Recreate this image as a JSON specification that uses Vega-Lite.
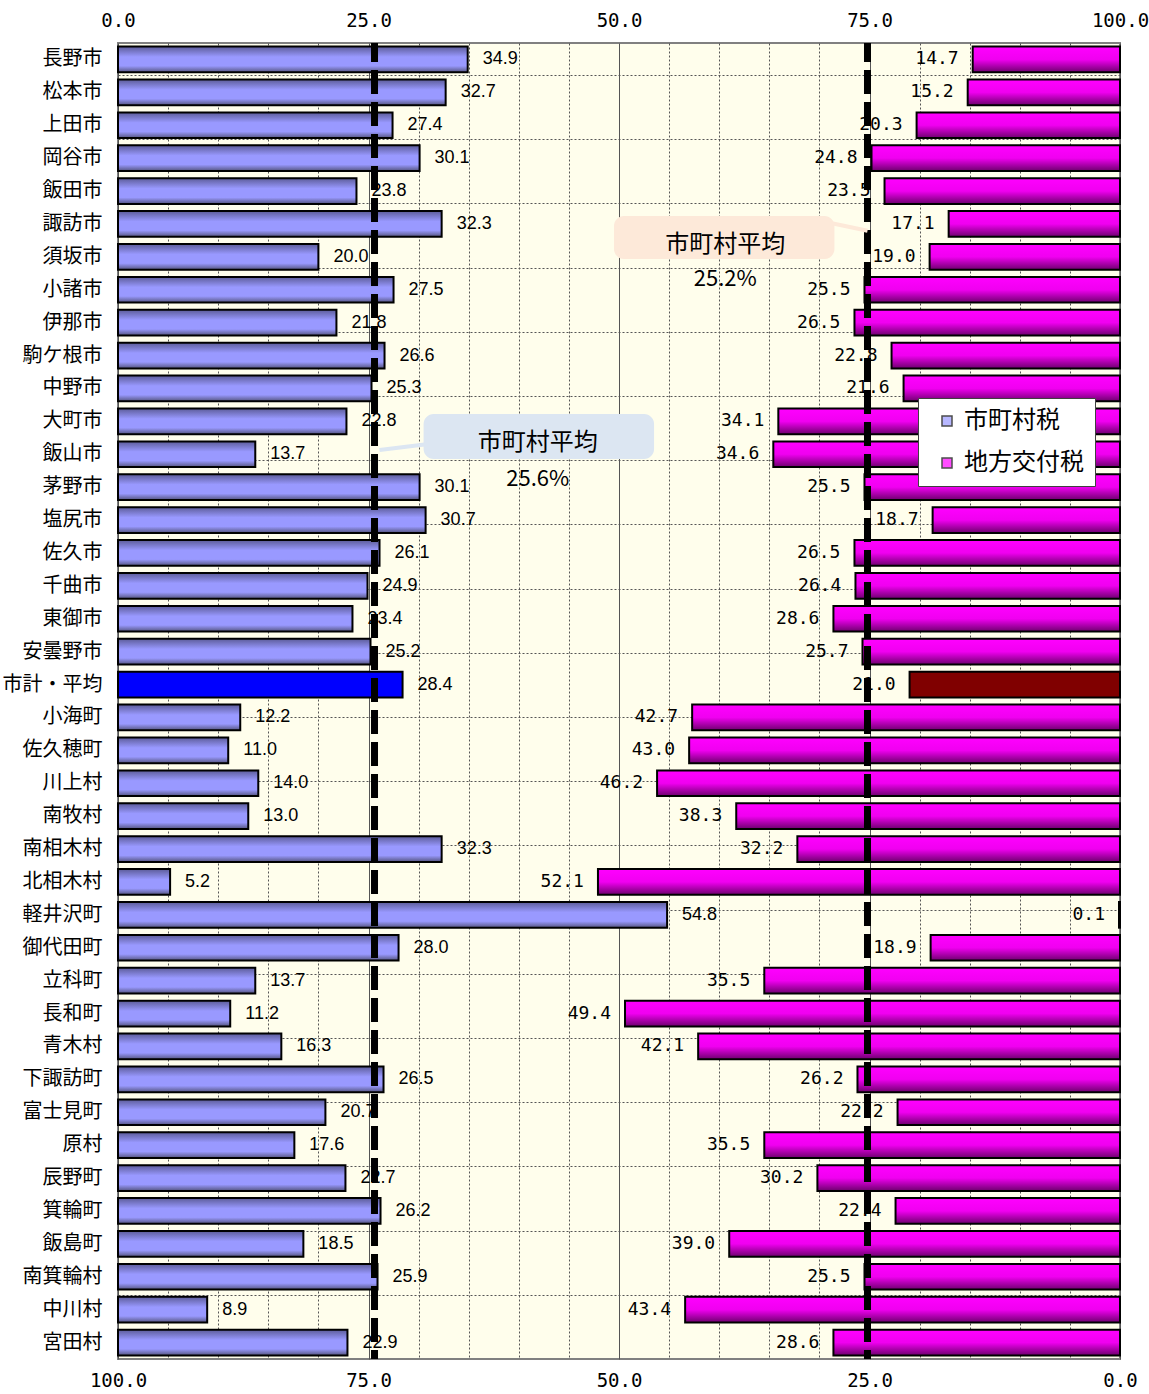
{
  "$schema": "https://vega.github.io/schema/vega-lite/v6.json",
  "width": 1002,
  "height": 1316,
  "padding": {"left": 2, "top": 11, "right": 5, "bottom": 5},
  "background": "white",
  "config": {
    "view": {"fill": "#fffeec", "stroke": "#808080", "strokeWidth": 2},
    "font": "Noto Sans CJK JP"
  },
  "datasets": {
    "main": [
      {"name": "長野市", "tax": 34.9, "grant": 14.7},
      {"name": "松本市", "tax": 32.7, "grant": 15.2},
      {"name": "上田市", "tax": 27.4, "grant": 20.3},
      {"name": "岡谷市", "tax": 30.1, "grant": 24.8},
      {"name": "飯田市", "tax": 23.8, "grant": 23.5},
      {"name": "諏訪市", "tax": 32.3, "grant": 17.1},
      {"name": "須坂市", "tax": 20.0, "grant": 19.0},
      {"name": "小諸市", "tax": 27.5, "grant": 25.5},
      {"name": "伊那市", "tax": 21.8, "grant": 26.5},
      {"name": "駒ケ根市", "tax": 26.6, "grant": 22.8},
      {"name": "中野市", "tax": 25.3, "grant": 21.6},
      {"name": "大町市", "tax": 22.8, "grant": 34.1},
      {"name": "飯山市", "tax": 13.7, "grant": 34.6},
      {"name": "茅野市", "tax": 30.1, "grant": 25.5},
      {"name": "塩尻市", "tax": 30.7, "grant": 18.7},
      {"name": "佐久市", "tax": 26.1, "grant": 26.5},
      {"name": "千曲市", "tax": 24.9, "grant": 26.4},
      {"name": "東御市", "tax": 23.4, "grant": 28.6},
      {"name": "安曇野市", "tax": 25.2, "grant": 25.7},
      {"name": "市計・平均", "tax": 28.4, "grant": 21.0},
      {"name": "小海町", "tax": 12.2, "grant": 42.7},
      {"name": "佐久穂町", "tax": 11.0, "grant": 43.0},
      {"name": "川上村", "tax": 14.0, "grant": 46.2},
      {"name": "南牧村", "tax": 13.0, "grant": 38.3},
      {"name": "南相木村", "tax": 32.3, "grant": 32.2},
      {"name": "北相木村", "tax": 5.2, "grant": 52.1},
      {"name": "軽井沢町", "tax": 54.8, "grant": 0.1},
      {"name": "御代田町", "tax": 28.0, "grant": 18.9},
      {"name": "立科町", "tax": 13.7, "grant": 35.5},
      {"name": "長和町", "tax": 11.2, "grant": 49.4},
      {"name": "青木村", "tax": 16.3, "grant": 42.1},
      {"name": "下諏訪町", "tax": 26.5, "grant": 26.2},
      {"name": "富士見町", "tax": 20.7, "grant": 22.2},
      {"name": "原村", "tax": 17.6, "grant": 35.5},
      {"name": "辰野町", "tax": 22.7, "grant": 30.2},
      {"name": "箕輪町", "tax": 26.2, "grant": 22.4},
      {"name": "飯島町", "tax": 18.5, "grant": 39.0},
      {"name": "南箕輪村", "tax": 25.9, "grant": 25.5},
      {"name": "中川村", "tax": 8.9, "grant": 43.4},
      {"name": "宮田村", "tax": 22.9, "grant": 28.6}
    ]
  },
  "data": {"name": "main"},
  "resolve": {"scale": {"x": "independent", "y": "independent"}},
  "layer": [
    {
      "layer": [
        {
          "mark": {"type": "bar", "stroke": "black", "strokeWidth": 2},
          "encoding": {
            "y": {"field": "name", "type": "nominal", "sort": null,
              "scale": {"paddingInner": 0.22, "paddingOuter": 0.11},
              "axis": {"title": null, "ticks": false, "domain": false, "grid": false,
                "labelFont": "Noto Sans CJK JP", "labelFontSize": 20, "labelColor": "black", "labelPadding": 16}},
            "x": {"field": "tax", "type": "quantitative",
              "scale": {"domain": [0, 100], "nice": false},
              "axis": {"orient": "top", "title": null,
                "values": [0,5,10,15,20,25,30,35,40,45,50,55,60,65,70,75,80,85,90,95,100],
                "labelExpr": "datum.value % 25 === 0 ? format(datum.value, '.1f') : ''",
                "labelFlush": false, "labelOverlap": false,
                "labelFont": "DejaVu Sans Mono", "labelFontSize": 19, "labelColor": "black", "labelPadding": 13,
                "ticks": false, "domain": false, "grid": true, "gridColor": "#555555", "gridWidth": 1,
                "gridDash": {"condition": {"test": "datum.value % 25 === 0", "value": []}, "value": [2, 2]}}},
            "fill": {
              "condition": {"test": "datum.name === '市計・平均'", "value": "#0000ff"},
              "value": {"gradient": "linear", "x1": 0, "y1": 0, "x2": 0, "y2": 1,
                "stops": [
                  {"offset": 0, "color": "#5c5c99"},
                  {"offset": 0.4, "color": "#9999ff"},
                  {"offset": 0.75, "color": "#9999ff"},
                  {"offset": 1, "color": "#55557f"}
                ]}
            }
          }
        },
        {
          "mark": {"type": "text", "align": "left", "baseline": "middle", "dx": 15, "font": "Liberation Sans", "fontSize": 18, "color": "black"},
          "encoding": {
            "y": {"field": "name", "type": "nominal", "sort": null},
            "x": {"field": "tax", "type": "quantitative"},
            "text": {"field": "tax", "type": "quantitative", "format": ".1f"}
          }
        },
        {
          "data": {"values": [{}]},
          "mark": {"type": "rule", "strokeWidth": 7, "strokeDash": [24, 8], "strokeDashOffset": 5, "color": "black"},
          "encoding": {"x": {"datum": 25.6, "type": "quantitative"}}
        }
      ]
    },
    {
      "layer": [
        {
          "mark": {"type": "bar", "stroke": "black", "strokeWidth": 2},
          "encoding": {
            "y": {"field": "name", "type": "nominal", "sort": null,
              "scale": {"paddingInner": 0.22, "paddingOuter": 0.11}, "axis": null},
            "x": {"field": "grant", "type": "quantitative",
              "scale": {"domain": [0, 100], "nice": false, "reverse": true},
              "axis": {"orient": "bottom", "title": null, "values": [0, 25, 50, 75, 100], "format": ".1f",
                "labelFlush": false, "labelOverlap": false,
                "labelFont": "DejaVu Sans Mono", "labelFontSize": 19, "labelColor": "black", "labelPadding": 12,
                "ticks": false, "domain": false, "grid": false}},
            "fill": {
              "condition": {"test": "datum.name === '市計・平均'", "value": "#800000"},
              "value": {"gradient": "linear", "x1": 0, "y1": 0, "x2": 0, "y2": 1,
                "stops": [
                  {"offset": 0, "color": "#ff00ff"},
                  {"offset": 0.5, "color": "#f000f0"},
                  {"offset": 1, "color": "#6e006e"}
                ]}
            }
          }
        },
        {
          "mark": {"type": "text", "align": "right", "baseline": "middle", "dx": -14, "font": "DejaVu Sans Mono", "fontSize": 18, "color": "black"},
          "encoding": {
            "y": {"field": "name", "type": "nominal", "sort": null},
            "x": {"field": "grant", "type": "quantitative"},
            "text": {"field": "grant", "type": "quantitative", "format": ".1f"}
          }
        },
        {
          "data": {"values": [{}]},
          "mark": {"type": "rule", "strokeWidth": 7, "strokeDash": [24, 8], "strokeDashOffset": 5, "color": "black"},
          "encoding": {"x": {"datum": 25.2, "type": "quantitative"}}
        }
      ]
    },
    {
      "data": {"values": [{}]},
      "layer": [
        {
          "mark": {"type": "rect", "cornerRadius": 10, "fill": "#dce6f2"},
          "encoding": {
            "x": {"datum": 30.5, "type": "quantitative", "scale": {"domain": [0, 100], "nice": false}, "axis": null},
            "x2": {"datum": 53.5},
            "y": {"datum": 11.56, "type": "quantitative", "scale": {"domain": [0, 41], "nice": false, "reverse": true},
              "axis": {"orient": "right", "title": null,
                "values": [1,2,3,4,5,6,7,8,9,10,11,12,13,14,15,16,17,18,19,20,21,22,23,24,25,26,27,28,29,30,31,32,33,34,35,36,37,38,39,40],
                "grid": true, "gridDash": [2, 2], "gridColor": "#555555", "labels": false, "ticks": false, "domain": false}},
            "y2": {"datum": 12.96}
          }
        },
        {
          "mark": {"type": "rule", "strokeWidth": 4, "color": "#dce6f2"},
          "encoding": {
            "x": {"datum": 26.1, "type": "quantitative"}, "x2": {"datum": 30.8},
            "y": {"datum": 12.68, "type": "quantitative"}, "y2": {"datum": 12.5}
          }
        },
        {
          "mark": {"type": "text", "fontSize": 24, "align": "center", "baseline": "middle", "color": "black"},
          "encoding": {
            "x": {"datum": 41.9, "type": "quantitative"},
            "y": {"datum": 12.46, "type": "quantitative"},
            "text": {"value": "市町村平均"}
          }
        },
        {
          "mark": {"type": "text", "fontSize": 22, "align": "center", "baseline": "middle", "color": "black"},
          "encoding": {
            "x": {"datum": 41.9, "type": "quantitative"},
            "y": {"datum": 13.58, "type": "quantitative"},
            "text": {"value": "25.6%"}
          }
        },
        {
          "mark": {"type": "rect", "cornerRadius": 10, "fill": "#fde9d9"},
          "encoding": {
            "x": {"datum": 49.5, "type": "quantitative"}, "x2": {"datum": 71.5},
            "y": {"datum": 5.39, "type": "quantitative"}, "y2": {"datum": 6.73}
          }
        },
        {
          "mark": {"type": "rule", "strokeWidth": 4, "color": "#fde9d9"},
          "encoding": {
            "x": {"datum": 71.0, "type": "quantitative"}, "x2": {"datum": 74.8},
            "y": {"datum": 5.6, "type": "quantitative"}, "y2": {"datum": 5.85}
          }
        },
        {
          "mark": {"type": "text", "fontSize": 24, "align": "center", "baseline": "middle", "color": "black"},
          "encoding": {
            "x": {"datum": 60.6, "type": "quantitative"},
            "y": {"datum": 6.29, "type": "quantitative"},
            "text": {"value": "市町村平均"}
          }
        },
        {
          "mark": {"type": "text", "fontSize": 22, "align": "center", "baseline": "middle", "color": "black"},
          "encoding": {
            "x": {"datum": 60.6, "type": "quantitative"},
            "y": {"datum": 7.35, "type": "quantitative"},
            "text": {"value": "25.2%"}
          }
        },
        {
          "data": {"values": [{"series": "市町村税"}, {"series": "地方交付税"}]},
          "mark": {"type": "point", "shape": "square", "filled": true, "stroke": "black", "strokeWidth": 1.5, "clip": true},
          "encoding": {
            "x": {"datum": -20, "type": "quantitative"},
            "y": {"datum": -20, "type": "quantitative"},
            "fill": {"field": "series", "type": "nominal",
              "scale": {"domain": ["市町村税", "地方交付税"], "range": ["#9999ff", "#ff00ff"]},
              "legend": {"orient": "none", "legendX": 800, "legendY": 355, "title": null,
                "fillColor": "white", "strokeColor": "#404040", "padding": 11,
                "symbolType": "square", "symbolSize": 100, "symbolStrokeColor": "black", "symbolStrokeWidth": 1.5,
                "symbolOffset": 6,
                "labelFont": "Noto Sans CJK JP", "labelFontSize": 24, "labelColor": "black",
                "labelOffset": 5, "rowPadding": 18}}
          }
        }
      ]
    }
  ]
}
